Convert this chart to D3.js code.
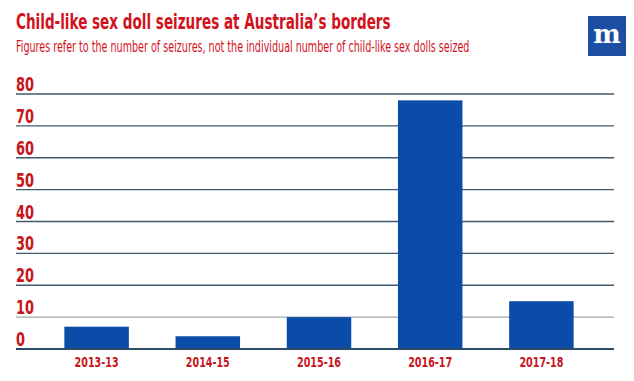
<!DOCTYPE html>
<meta charset='utf-8'>
<style>
    html, body {
        margin: 0;
        background: white;
    }

    .title {
        font: bold 21px 'DejaVu Sans Condensed', 'Liberation Sans Narrow', sans-serif;
        fill: #d2121c;
    }

    .subtitle {
        font: 15px 'DejaVu Sans Condensed', 'Liberation Sans Narrow', sans-serif;
        fill: #d2121c;
    }

    .ytick {
        font: bold 19px 'DejaVu Sans Condensed', 'Liberation Sans Narrow', sans-serif;
        fill: #c8141c;
    }

    .xtick {
        font: bold 14px 'DejaVu Sans Condensed', 'Liberation Sans Narrow', sans-serif;
        fill: #c8141c;
    }

    .bar {
        fill: #0b4ca8;
    }
</style>
<title>Child-like sex doll seizures</title>
<body>

<script src='https://d3js.org/d3.v7.min.js'></script>
<script>

    let years = ['2013-13', '2014-15', '2015-16', '2016-17', '2017-18'];
    let seizures = [7, 4, 10, 78, 15];
    let yTicks = [0, 10, 20, 30, 40, 50, 60, 70, 80];

    let width = 634,
        height = 381;

    let svg = d3.select('body').append('svg')
        .attr('width', width)
        .attr('height', height);

    let x = d3.scaleBand()
        .domain(years)
        .range([41, 597])
        .paddingInner(0.42)
        .paddingOuter(0.21);

    let y = d3.scaleLinear()
        .domain([0, 80])
        .range([349, 94]);

    // squeeze a text horizontally to a target width (condensed look)
    function squeeze(sel, tx, ty, w) {
        sel.each(function (d, i) {
            let node = d3.select(this);
            let natural = this.getComputedTextLength();
            let left = typeof tx === 'function' ? tx(d, i) : tx;
            let base = typeof ty === 'function' ? ty(d, i) : ty;
            let target = typeof w === 'function' ? w(d, i) : w;
            node.attr('transform', 'translate(' + left + ',' + base + ') scale(' + (target / natural) + ',1)');
        });
    }

    // gridlines
    svg.selectAll('.grid')
        .data(yTicks)
        .enter().append('line')
        .attr('x1', 16)
        .attr('x2', 614)
        .attr('y1', function (d) { return y(d); })
        .attr('y2', function (d) { return y(d); })
        .attr('stroke', function (d) {
            if (d === 10) return '#9ea8ae';
            return d === 0 ? '#2b4a66' : '#3f5a6c';
        })
        .attr('stroke-width', function (d) { return d === 0 ? 2.2 : 1.4; });

    svg.selectAll('.ytick')
        .data(yTicks)
        .enter().append('text')
        .attr('class', 'ytick')
        .text(function (d) { return d; })
        .call(squeeze, 16, function (d) { return y(d) - 3; },
            function (d) { return String(d).length * 9; });

    svg.selectAll('.bar')
        .data(seizures)
        .enter().append('rect')
        .attr('class', 'bar')
        .attr('x', function (d, i) { return x(years[i]); })
        .attr('width', x.bandwidth())
        .attr('y', function (d) { return y(d); })
        .attr('height', function (d) { return y(0) - y(d); });

    // redraw baseline over bars
    svg.append('line')
        .attr('x1', 16).attr('x2', 614)
        .attr('y1', y(0)).attr('y2', y(0))
        .attr('stroke', '#2b4a66')
        .attr('stroke-width', 2.2);

    svg.selectAll('.xtick')
        .data(years)
        .enter().append('text')
        .attr('class', 'xtick')
        .text(function (d) { return d; })
        .call(squeeze, function (d) { return x(d) + x.bandwidth() / 2 - 22; }, 367, 44);

    svg.append('text')
        .attr('class', 'title')
        .text('Child-like sex doll seizures at Australia’s borders')
        .call(squeeze, 16, 29, 375);

    svg.append('text')
        .attr('class', 'subtitle')
        .text('Figures refer to the number of seizures, not the individual number of child-like sex dolls seized')
        .call(squeeze, 16, 52, 454);

    // logo
    svg.append('rect')
        .attr('x', 588)
        .attr('y', 16)
        .attr('width', 38)
        .attr('height', 40)
        .attr('fill', '#1c4fa1');

    svg.append('text')
        .attr('x', 607)
        .attr('y', 43)
        .attr('text-anchor', 'middle')
        .attr('fill', 'white')
        .style('font', 'bold 26px "DejaVu Serif", serif')
        .text('m');

</script>
</body>
